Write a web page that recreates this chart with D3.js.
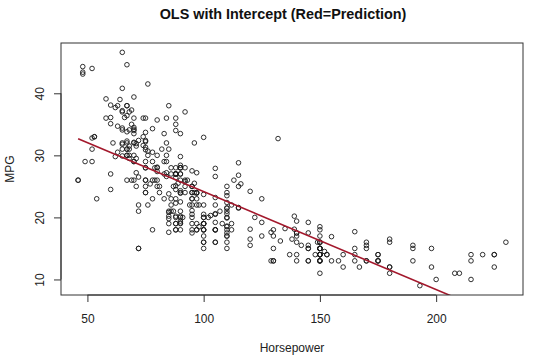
<!DOCTYPE html>
<html>
<head>
<meta charset="utf-8">
<script src="https://cdn.jsdelivr.net/npm/d3@7"></script>
<style>
  body { margin: 0; background: #fff; }
  svg { display: block; font-family: "Liberation Sans", Arial, sans-serif; }
</style>
</head>
<body>
<div id="chart"></div>
<script>
// Auto data: mpg vs horsepower (392 cars)
const mpg = [
  18,15,18,16,17,15,14,14,14,15,
  15,14,15,14,24,22,18,21,27,26,
  25,24,25,26,21,10,10,11,9,27,
  28,25,19,16,17,19,18,14,14,14,
  14,12,13,13,18,22,19,18,23,28,
  30,30,31,35,27,26,24,25,23,20,
  21,13,14,15,14,17,11,13,12,13,
  19,15,13,13,14,18,22,21,26,22,
  28,23,28,27,13,14,13,14,15,12,
  13,13,14,13,12,13,18,16,18,18,
  23,26,11,12,13,12,18,20,21,22,
  18,19,21,26,15,16,29,24,20,19,
  15,24,20,11,20,19,15,31,26,32,
  25,16,16,18,16,13,14,14,14,29,
  26,26,31,32,28,24,26,24,26,31,
  19,18,15,15,16,15,16,14,17,16,
  15,18,21,20,13,29,23,20,23,24,
  25,24,18,29,19,23,23,22,25,33,
  28,25,25,26,27,17.5,16,15.5,14.5,22,
  22,24,22.5,29,24.5,29,33,20,18,18.5,
  17.5,29.5,32,28,26.5,20,13,19,19,16.5,
  16.5,13,13,13,31.5,30,36,25.5,33.5,17.5,
  17,15.5,15,17.5,20.5,19,18.5,16,15.5,15.5,
  16,29,24.5,26,25.5,30.5,33.5,30,30.5,22,
  21.5,21.5,43.1,36.1,32.8,39.4,36.1,19.9,19.4,20.2,
  19.2,20.5,20.2,25.1,20.5,19.4,20.6,20.8,18.6,18.1,
  19.2,17.7,18.1,17.5,30,27.5,27.2,30.9,21.1,23.2,
  23.8,23.9,20.3,17,21.6,16.2,31.5,29.5,21.5,19.8,
  22.3,20.2,20.6,17,17.6,16.5,18.2,16.9,15.5,19.2,
  18.5,31.9,34.1,35.7,27.4,25.4,23,27.2,23.9,34.2,
  34.5,31.8,37.3,28.4,28.8,26.8,33.5,41.5,38.1,32.1,
  37.2,28,26.4,24.3,19.1,34.3,29.8,31.3,37,32.2,
  46.6,27.9,40.8,44.3,43.4,36.4,30,44.6,33.8,29.8,
  32.7,23.7,35,32.4,27.2,26.6,25.8,23.5,30,39.1,
  39,35.1,32.3,37,37.7,34.1,34.7,34.4,29.9,33,
  33.7,32.4,32.9,31.6,28.1,30.7,25.4,24.2,22.4,26.6,
  20.2,17.6,28,27,34,31,29,27,24,36,
  37,31,38,36,36,36,34,38,32,38,
  25,38,26,22,32,36,27,27,44,32,
  28,31
];
const horsepower = [
  130,165,150,150,140,198,220,215,225,190,
  170,160,150,225,95,95,97,85,88,46,
  87,90,95,113,90,215,200,210,193,88,
  90,95,100,105,100,88,100,165,175,153,
  150,180,170,175,110,72,100,88,86,90,
  70,76,65,69,60,70,95,80,54,90,
  86,165,175,150,153,150,208,155,160,190,
  97,150,130,140,150,112,76,87,69,86,
  92,97,80,88,175,150,145,137,150,198,
  150,158,150,215,225,175,105,100,100,88,
  95,46,150,167,170,180,100,88,72,94,
  90,85,107,90,145,230,49,75,91,112,
  150,110,122,180,95,100,100,67,80,65,
  75,100,110,105,140,150,150,140,150,83,
  67,78,52,61,75,75,75,97,93,67,
  95,105,72,72,170,145,150,148,110,105,
  110,95,110,110,129,75,83,100,78,96,
  71,97,97,70,90,95,88,98,115,53,
  86,81,92,79,83,140,150,120,152,100,
  105,81,90,52,60,70,53,100,78,110,
  95,71,70,75,72,102,150,88,108,120,
  180,145,130,150,68,80,58,96,70,145,
  110,145,130,110,105,100,98,180,170,190,
  149,78,88,75,89,63,83,67,78,97,
  110,110,48,66,52,70,60,110,140,139,
  105,95,85,88,100,90,105,85,110,120,
  145,165,139,140,68,95,97,75,95,105,
  85,97,103,125,115,133,71,68,115,85,
  88,90,110,130,129,138,135,155,142,125,
  150,71,65,80,80,77,125,71,90,70,
  70,65,69,90,115,115,90,76,60,70,
  65,90,88,90,90,78,90,75,92,75,
  65,105,65,48,48,67,67,67,67,62,
  132,100,88,72,84,84,92,110,84,58,
  64,60,67,65,62,68,63,65,65,74,
  75,75,100,74,80,76,116,120,110,105,
  88,85,88,88,88,85,84,90,92,74,
  68,68,63,70,88,75,70,67,67,67,
  110,85,92,112,96,84,90,86,52,84,
  79,82
];

const xTicks = [50, 100, 150, 200];
const yTicks = [10, 20, 30, 40];

const width = 540, height = 362;
const margin = { top: 43, right: 17, bottom: 67, left: 61 };

// OLS fit mpg ~ horsepower
const mx = d3.mean(horsepower), my = d3.mean(mpg);
let sxy = 0, sxx = 0;
horsepower.forEach((h, i) => {
  sxy += (h - mx) * (mpg[i] - my);
  sxx += (h - mx) * (h - mx);
});
const slope = sxy / sxx;
const intercept = my - slope * mx;

// R style 4% extension of the data range
function padded(ext) {
  const d = (ext[1] - ext[0]) * 0.04;
  return [ext[0] - d, ext[1] + d];
}

const x = d3.scaleLinear()
  .domain(padded(d3.extent(horsepower)))
  .range([margin.left, width - margin.right]);
const y = d3.scaleLinear()
  .domain(padded(d3.extent(mpg)))
  .range([height - margin.bottom, margin.top]);

const svg = d3.select("#chart").append("svg")
  .attr("width", width)
  .attr("height", height);

svg.append("defs").append("clipPath")
  .attr("id", "plot-clip")
  .append("rect")
  .attr("x", margin.left)
  .attr("y", margin.top)
  .attr("width", width - margin.left - margin.right)
  .attr("height", height - margin.top - margin.bottom);

// points
svg.append("g")
  .selectAll("circle")
  .data(horsepower.map((h, i) => [h, mpg[i]]))
  .join("circle")
  .attr("cx", d => x(d[0]))
  .attr("cy", d => y(d[1]))
  .attr("r", 2.3)
  .attr("fill", "none")
  .attr("stroke", "#1a1a1a")
  .attr("stroke-width", 0.9);

// prediction line
const hpExt = d3.extent(horsepower);
svg.append("path")
  .datum(hpExt)
  .attr("clip-path", "url(#plot-clip)")
  .attr("fill", "none")
  .attr("stroke", "#a3182c")
  .attr("stroke-width", 1.6)
  .attr("d", d3.line().x(h => x(h)).y(h => y(intercept + slope * h)));

// box
svg.append("rect")
  .attr("x", margin.left)
  .attr("y", margin.top)
  .attr("width", width - margin.left - margin.right)
  .attr("height", height - margin.top - margin.bottom)
  .attr("fill", "none")
  .attr("stroke", "#333")
  .attr("stroke-width", 1);

// axes
const xAxis = svg.append("g")
  .attr("transform", `translate(0,${height - margin.bottom})`)
  .call(d3.axisBottom(x).tickValues(xTicks).tickSize(7).tickSizeOuter(0).tickPadding(12));
xAxis.select(".domain")
  .attr("d", `M${x(xTicks[0])},0H${x(xTicks[xTicks.length - 1])}`)
  .attr("stroke", "#333");
xAxis.selectAll(".tick line").attr("stroke", "#333");
xAxis.selectAll(".tick text")
  .attr("font-size", 12)
  .attr("font-family", "Liberation Sans, Arial, sans-serif")
  .attr("fill", "#222");

const yAxis = svg.append("g")
  .attr("transform", `translate(${margin.left},0)`)
  .call(d3.axisLeft(y).tickValues(yTicks).tickSize(7).tickSizeOuter(0));
yAxis.select(".domain")
  .attr("d", `M0,${y(yTicks[0])}V${y(yTicks[yTicks.length - 1])}`)
  .attr("stroke", "#333");
yAxis.selectAll(".tick line").attr("stroke", "#333");
yAxis.selectAll(".tick text")
  .attr("font-size", 12)
  .attr("font-family", "Liberation Sans, Arial, sans-serif")
  .attr("fill", "#222")
  .attr("transform", "rotate(-90)")
  .attr("text-anchor", "middle")
  .attr("x", 0)
  .attr("y", -21)
  .attr("dy", "0.35em");

// title and labels
svg.append("text")
  .attr("x", 283)
  .attr("y", 19)
  .attr("text-anchor", "middle")
  .attr("font-size", 14.4)
  .attr("font-weight", "bold")
  .attr("fill", "#111")
  .text("OLS with Intercept (Red=Prediction)");

svg.append("text")
  .attr("x", (margin.left + width - margin.right) / 2)
  .attr("y", 352)
  .attr("text-anchor", "middle")
  .attr("font-size", 12)
  .attr("fill", "#222")
  .text("Horsepower");

svg.append("text")
  .attr("transform", `translate(14,${(margin.top + height - margin.bottom) / 2}) rotate(-90)`)
  .attr("text-anchor", "middle")
  .attr("font-size", 12)
  .attr("fill", "#222")
  .text("MPG");
</script>
</body>
</html>
